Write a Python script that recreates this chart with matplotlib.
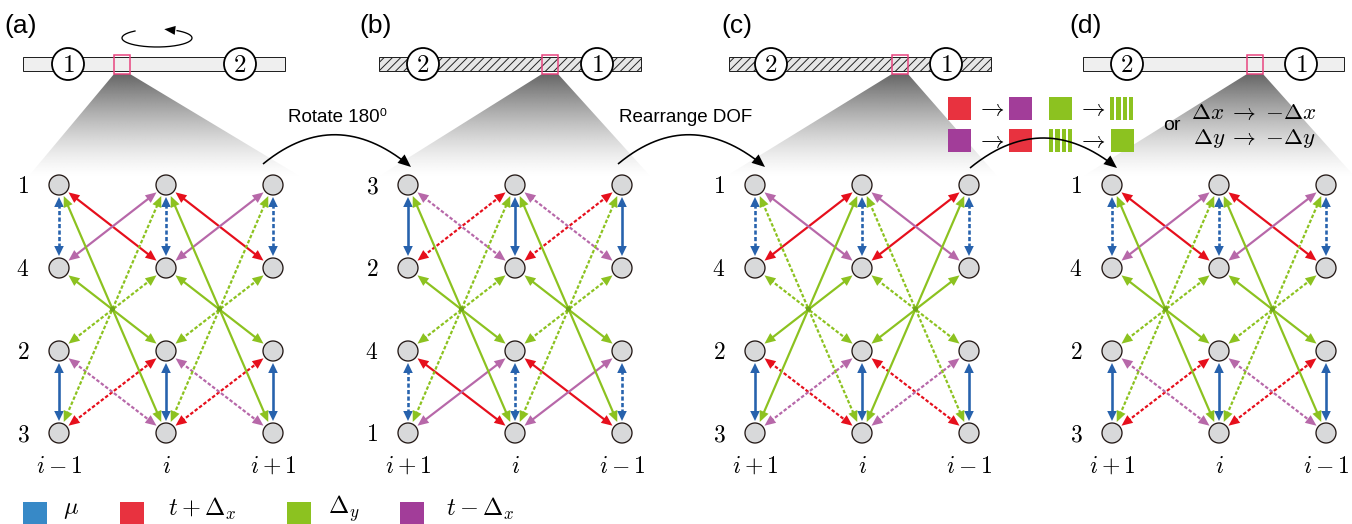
import numpy as np
import matplotlib
matplotlib.use("Agg")
import matplotlib.pyplot as plt
from matplotlib.patches import Rectangle, Circle, Polygon

plt.rcParams['mathtext.fontset'] = 'cm'
plt.rcParams['hatch.linewidth'] = 0.7
SANS = ['Liberation Sans', 'DejaVu Sans']

# ---------------------------------------------------------------- data
panel_tags = ['(a)', '(b)', '(c)', '(d)']
row_labels = [['1', '4', '2', '3'],
              ['3', '2', '4', '1'],
              ['1', '4', '2', '3'],
              ['1', '4', '2', '3']]
col_labels = [['i-1', 'i', 'i+1'],
              ['i+1', 'i', 'i-1'],
              ['i+1', 'i', 'i-1'],
              ['i+1', 'i', 'i-1']]
bar_labels = [['1', '2'], ['2', '1'], ['2', '1'], ['2', '1']]
bar_hatched = [False, True, True, False]

# on-site mu couplings inside one column: (upper row, lower row, style)
onsite = [[(0, 1, ':'), (2, 3, '-')],
          [(0, 1, '-'), (2, 3, ':')],
          [(0, 1, ':'), (2, 3, '-')],
          [(0, 1, ':'), (2, 3, '-')]]

# bonds between neighbouring columns: (row left, row right, term, style)
bonds = [
    [(0, 1, 'tp', '-'), (1, 0, 'tm', '-'), (3, 2, 'tp', ':'), (2, 3, 'tm', ':'),
     (0, 3, 'dy', '-'), (1, 2, 'dy', '-'), (2, 1, 'dy', ':'), (3, 0, 'dy', ':')],
    [(1, 0, 'tp', ':'), (0, 1, 'tm', ':'), (2, 3, 'tp', '-'), (3, 2, 'tm', '-'),
     (0, 3, 'dy', '-'), (1, 2, 'dy', '-'), (2, 1, 'dy', ':'), (3, 0, 'dy', ':')],
    [(1, 0, 'tp', '-'), (0, 1, 'tm', '-'), (2, 3, 'tp', ':'), (3, 2, 'tm', ':'),
     (0, 3, 'dy', ':'), (1, 2, 'dy', ':'), (2, 1, 'dy', '-'), (3, 0, 'dy', '-')],
    [(0, 1, 'tp', '-'), (1, 0, 'tm', '-'), (3, 2, 'tp', ':'), (2, 3, 'tm', ':'),
     (0, 3, 'dy', '-'), (1, 2, 'dy', '-'), (2, 1, 'dy', ':'), (3, 0, 'dy', ':')],
]

legend_terms = ['mu', 'tp', 'dy', 'tm']
legend_texts = [r'$\mu$', r'$t+\Delta_x$', r'$\Delta_y$', r'$t-\Delta_x$']
step_texts = ['Rotate 180\u2070', 'Rearrange DOF']

# ---------------------------------------------------------------- style
arrow_col = {'mu': '#2762ad', 'tp': '#e60f1c', 'dy': '#8cc220', 'tm': '#b768a9'}
swatch_col = {'mu': '#3789c7', 'tp': '#e8323f', 'dy': '#8cc220', 'tm': '#a23d99'}
PX = 0.72  # points per pixel at dpi 100

# ---------------------------------------------------------------- layout (pixels)
W, H = 1352, 524
col0_x = [59, 408, 755, 1112]
col_step = 107
row_y = [185, 268, 351, 433]
node_r = 10
bar_x = [(23, 285), (379, 641), (729, 991), (1083, 1344)]
bar_circ_x = [(68, 240), (423, 597), (771, 946), (1127, 1301)]
zoom_x = [114, 542, 892, 1247]
tag_x = [4, 359, 721, 1069]

fig = plt.figure(figsize=(W / 100, H / 100), dpi=100)
ax = fig.add_axes([0, 0, 1, 1])


def head(tip, u, color, hl=11, hw=4.8, z=5):
    u = np.asarray(u, float)
    u = u / np.hypot(*u)
    n = np.array([-u[1], u[0]])
    base = tip - u * hl
    ax.add_patch(Polygon([tip, base + n * hw, base - n * hw], closed=True,
                         facecolor=color, edgecolor='none', zorder=z))


def bond(p, q, color, style, lw=2.2, hl=11, hw=4.8):
    p = np.asarray(p, float)
    q = np.asarray(q, float)
    u = (q - p) / np.hypot(*(q - p))
    tp_ = p + u * (node_r + 2)
    tq_ = q - u * (node_r + 2)
    a = tp_ + u * hl * 0.7
    b = tq_ - u * hl * 0.7
    ls = '-' if style == '-' else (0, (1.6, 0.9))
    ax.plot([a[0], b[0]], [a[1], b[1]], color=color, lw=lw * PX, ls=ls,
            solid_capstyle='butt', dash_capstyle='butt', zorder=4)
    head(tp_, -u, color, hl, hw)
    head(tq_, u, color, hl, hw)


def curved_arrow(p0, c, p2, lw=1.6):
    t = np.linspace(0, 1, 200)[:, None]
    p0, c, p2 = (np.asarray(v, float) for v in (p0, c, p2))
    pts = (1 - t) ** 2 * p0 + 2 * (1 - t) * t * c + t ** 2 * p2
    keep = np.hypot(*(pts - p2).T) > 7
    ax.plot(pts[keep, 0], pts[keep, 1], color='black', lw=lw * PX, zorder=8,
            solid_capstyle='butt')
    head(p2, p2 - c, 'black', hl=13, hw=5.5, z=8)


for k in range(4):
    xs = [col0_x[k] + col_step * j for j in range(3)]

    # ---- top bar
    x0, x1 = bar_x[k]
    ax.add_patch(Rectangle((x0, 57), x1 - x0, 14,
                           facecolor='#e6e6e6' if bar_hatched[k] else '#efefef',
                           edgecolor='#222222', lw=1.0 * PX,
                           hatch='////' if bar_hatched[k] else None, zorder=2))
    for cx, lab in zip(bar_circ_x[k], bar_labels[k]):
        ax.add_patch(Circle((cx, 64), 16, facecolor='white', edgecolor='black',
                            lw=1.8 * PX, zorder=3))
        ax.text(cx, 65, '$' + lab + '$', fontsize=18, ha='center', va='center',
                zorder=4)
    zx = zoom_x[k]
    ax.add_patch(Rectangle((zx, 55), 16, 19, facecolor='none',
                           edgecolor='#e8417d', lw=1.5 * PX, zorder=3))

    # ---- zoom gradient wedge
    gx0, gx1 = xs[0] - 32, xs[2] + 30
    gy0, gy1 = 74, 178
    tt = np.linspace(0.0, 1.0, 200)
    grad = np.zeros((200, 2, 4))
    grad[..., :3] = 0.40
    grad[..., 3] = ((1.0 - tt) ** 1.4)[:, None]
    im = ax.imshow(grad, extent=(gx0, gx1, gy1, gy0), origin='upper',
                   aspect='auto', zorder=1, interpolation='bilinear')
    wedge = Polygon([(zx, gy0), (zx + 16, gy0), (gx1, gy1), (gx0, gy1)],
                    closed=True, facecolor='none', edgecolor='none')
    ax.add_patch(wedge)
    im.set_clip_path(wedge)

    # ---- panel tag
    ax.text(tag_x[k], 26, panel_tags[k], fontsize=19, family=SANS,
            ha='left', va='center', zorder=7)

    # ---- on-site mu links
    for j in range(3):
        for r0, r1, st in onsite[k]:
            bond((xs[j], row_y[r0]), (xs[j], row_y[r1]), arrow_col['mu'], st,
                 lw=2.6, hl=10, hw=4.8)

    # ---- inter-column bonds
    for j in range(2):
        for rl, rr, term, st in bonds[k]:
            bond((xs[j], row_y[rl]), (xs[j + 1], row_y[rr]), arrow_col[term], st)
        ax.add_patch(Circle(((xs[j] + xs[j + 1]) / 2, (row_y[0] + row_y[3]) / 2),
                            2.6, facecolor='#6fa51a', edgecolor='none', zorder=5))

    # ---- nodes
    for j in range(3):
        for y in row_y:
            ax.add_patch(Circle((xs[j], y), node_r, facecolor='#d8d9da',
                                edgecolor='#231815', lw=1.3 * PX, zorder=6))

    # ---- row and column labels
    for r, lab in enumerate(row_labels[k]):
        ax.text(xs[0] - 36, row_y[r] + 1, '$' + lab + '$', fontsize=17,
                ha='center', va='center', zorder=7)
    for j, lab in enumerate(col_labels[k]):
        ax.text(xs[j], 466, '$' + lab + '$', fontsize=17, ha='center',
                va='center', zorder=7)

# ---- rotation sign above bar (a)
cx, cy, a, b = 157, 38, 35, 9
th = np.radians(np.linspace(129, 415, 200))
ax.plot(cx + a * np.cos(th), cy - b * np.sin(th), color='black', lw=1.3 * PX,
        zorder=8)
p_end = np.array([cx + a * np.cos(np.radians(55)), cy - b * np.sin(np.radians(55))])
tip = np.array([cx + a * np.cos(np.radians(78)), cy - b * np.sin(np.radians(78))])
head(tip, tip - p_end, 'black', hl=11, hw=4.5, z=8)

# ---- step arrows between panels
curved_arrow((263, 164), (336, 104), (411, 167))
curved_arrow((618, 164), (690, 104), (765, 167))
curved_arrow((970, 168), (1043, 108), (1117, 168))
ax.text(337, 118, step_texts[0], fontsize=13.5, family=SANS, ha='center',
        va='center', zorder=7)
ax.text(686, 118, step_texts[1], fontsize=13.5, family=SANS, ha='center',
        va='center', zorder=7)

# ---- colour substitution key
def swatch(x, y, term, striped=False):
    if striped:
        for s in range(4):
            ax.add_patch(Rectangle((x + s * 6.25, y), 4.25, 23,
                                   facecolor=swatch_col[term], edgecolor='none',
                                   zorder=7))
    else:
        ax.add_patch(Rectangle((x, y), 23, 23, facecolor=swatch_col[term],
                               edgecolor='none', zorder=7))


swatch(948, 97, 'tp'); swatch(1009, 97, 'tm')
swatch(1049, 97, 'dy'); swatch(1110, 97, 'dy', striped=True)
swatch(948, 129, 'tm'); swatch(1009, 129, 'tp')
swatch(1049, 129, 'dy', striped=True); swatch(1111, 129, 'dy')
for y in (108, 140):
    ax.text(990, y, r'$\rightarrow$', fontsize=17, ha='center', va='center', zorder=7)
    ax.text(1091, y, r'$\rightarrow$', fontsize=17, ha='center', va='center', zorder=7)
ax.text(1172, 126, 'or', fontsize=14, family=SANS, ha='center', va='center', zorder=7)
ax.text(1254, 112, r'$\Delta x\;\rightarrow\;{-}\Delta x$', fontsize=16.5,
        ha='center', va='center', zorder=7)
ax.text(1254, 139, r'$\Delta y\;\rightarrow\;{-}\Delta y$', fontsize=16.5,
        ha='center', va='center', zorder=7)

# ---- bottom legend
sw_x = [23, 120, 287, 400]
txt_x = [63, 168, 328, 446]
for term, sx, tx, lab in zip(legend_terms, sw_x, txt_x, legend_texts):
    ax.add_patch(Rectangle((sx, 502), 24, 26, facecolor=swatch_col[term],
                           edgecolor='none', zorder=7))
    ax.text(tx, 509, lab, fontsize=17.5, ha='left', va='center', zorder=7)

ax.set_xlim(0, W)
ax.set_ylim(H, 0)
ax.set_aspect('auto')
ax.axis('off')
fig.savefig('out.png', dpi=100, facecolor='white')
